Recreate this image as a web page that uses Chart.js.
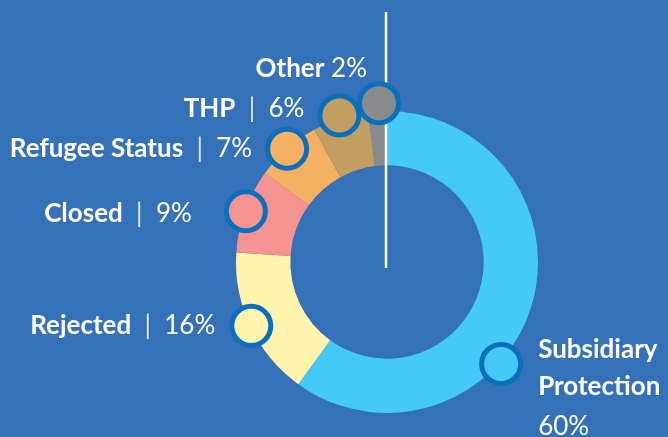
<!DOCTYPE html>
<html>
<head>
<meta charset="utf-8">
<script src="https://cdn.jsdelivr.net/npm/chart.js@4"></script>
<style>
  html, body { margin: 0; padding: 0; background: #3471b8; }
  canvas { display: block; }
</style>
</head>
<body>
<canvas id="outcomeChart" width="668" height="437"></canvas>
<script>
// data
const categories = ['Subsidiary Protection', 'Rejected', 'Closed', 'Refugee Status', 'THP', 'Other'];
const shares = [60, 16, 9, 7, 6, 2];
const labelLines = [['Subsidiary', 'Protection'], ['Rejected'], ['Closed'], ['Refugee Status'], ['THP'], ['Other']];
const sliceColors = ['#45c9f6', '#fff4ad', '#f59292', '#f6b063', '#c29e62', '#898a8e'];

// where each marker sits on its slice (fraction of the arc) and label placement
const markerFrac = [0.61, 0.5, 0.5, 0.5, 0.5, 0.6];
const markerPush = [2, -1, -1, 0, 3, 8];
const labelPlace = [
    { dx: 37, dy: -14, align: 'left', stacked: true },
    { dx: -36, dy: 0, align: 'right' },
    { dx: -54, dy: 2, align: 'right' },
    { dx: -35, dy: 0, align: 'right' },
    { dx: -35, dy: -7, align: 'right' },
    { dx: -12, dy: -35, align: 'right', noPipe: true }
];

const FONT = 'Lato, "Open Sans", sans-serif';
const SIZE = 26;

const annotate = {
    id: 'annotate',
    afterDatasetsDraw(chart) {
        const c = chart.ctx;
        const arcs = chart.getDatasetMeta(0).data;

        // the white divider line at the top
        const cx = arcs[0].x, cy = arcs[0].y;
        c.save();
        c.strokeStyle = '#ffffff';
        c.lineWidth = 2.5;
        c.beginPath();
        c.moveTo(cx - 1, 12);
        c.lineTo(cx - 1, cy + 6);
        c.stroke();
        c.restore();

        arcs.forEach((arc, i) => {
            const a = arc.startAngle + markerFrac[i] * (arc.endAngle - arc.startAngle);
            const r = arc.outerRadius + markerPush[i];
            const mx = arc.x + Math.cos(a) * r;
            const my = arc.y + Math.sin(a) * r;

            c.save();
            c.beginPath();
            c.arc(mx, my, 19.5, 0, Math.PI * 2);
            c.fillStyle = sliceColors[i];
            c.fill();
            c.lineWidth = 5;
            c.strokeStyle = '#0a6fbd';
            c.stroke();
            c.restore();

            // label
            const p = labelPlace[i];
            const pct = shares[i] + '%';
            const lx = mx + p.dx, ly = my + p.dy;
            c.save();
            c.fillStyle = '#ffffff';
            c.textBaseline = 'middle';
            if (p.stacked) {
                c.textAlign = 'left';
                c.font = 'bold ' + SIZE + 'px ' + FONT;
                labelLines[i].forEach((ln, k) => c.fillText(ln, lx, ly + k * 37));
                c.font = SIZE + 'px ' + FONT;
                c.fillText(pct, lx, ly + labelLines[i].length * 37 + 3);
            } else {
                const name = labelLines[i][0];
                c.font = SIZE + 'px ' + FONT;
                const pctW = c.measureText(pct).width;
                const sep = p.noPipe ? ' ' : '  |  ';
                const sepW = c.measureText(sep).width;
                c.font = 'bold ' + SIZE + 'px ' + FONT;
                const nameW = c.measureText(name).width;
                let x0 = lx - (nameW + sepW + pctW);
                c.textAlign = 'left';
                c.fillText(name, x0, ly);
                c.font = SIZE + 'px ' + FONT;
                if (!p.noPipe) {
                    c.fillStyle = 'rgba(255,255,255,0.85)';
                }
                c.fillText(sep, x0 + nameW, ly);
                c.fillStyle = '#ffffff';
                c.fillText(pct, x0 + nameW + sepW, ly);
            }
            c.restore();
        });
    }
};

const ctx = document.getElementById('outcomeChart').getContext('2d');
const outcomeChart = new Chart(ctx, {
    type: 'doughnut',
    data: {
        labels: categories,
        datasets: [{
            data: shares,
            backgroundColor: sliceColors,
            borderWidth: 0
        }]
    },
    options: {
        responsive: false,
        animation: false,
        cutout: '64%',
        layout: {
            padding: { left: 236, right: 130, top: 111, bottom: 24 }
        },
        plugins: {
            legend: { display: false },
            tooltip: { enabled: false }
        }
    },
    plugins: [annotate]
});
</script>
</body>
</html>
